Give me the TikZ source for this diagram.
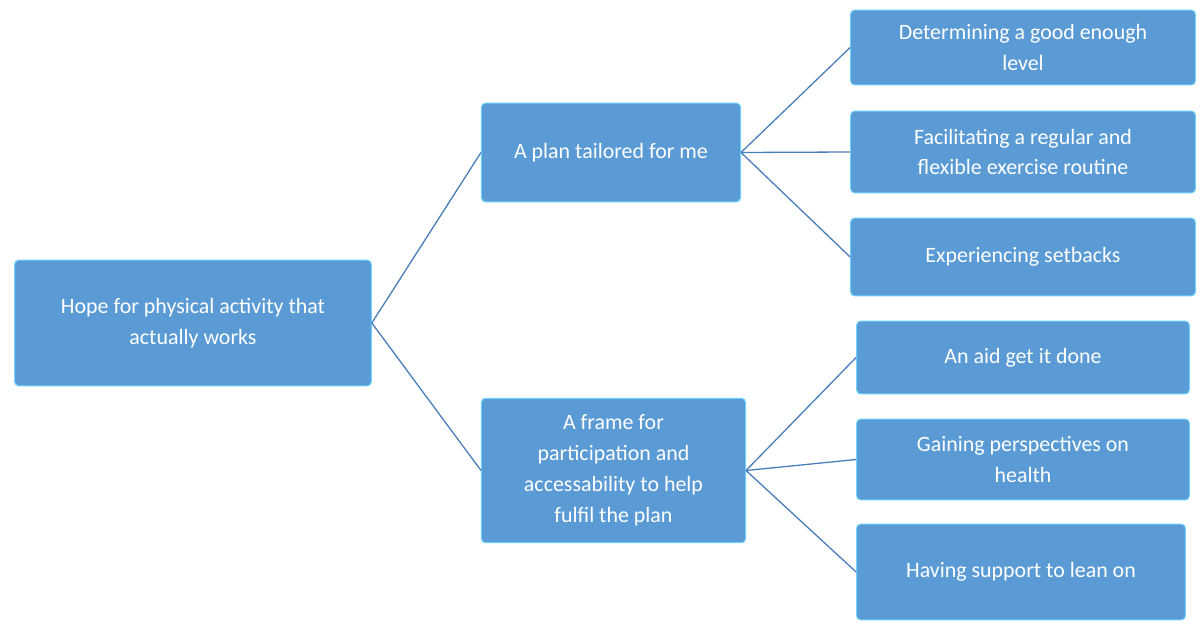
\documentclass[tikz,border=0pt]{standalone}
\usepackage{fontspec}
\setmainfont{Carlito}
\begin{document}
\begin{tikzpicture}[x=1bp,y=-1bp,
  box/.style={draw=white!70!blue!60!cyan,line width=1bp,fill={rgb,255:red,91;green,155;blue,213},rounded corners=4bp,
    text=white,align=center,font=\fontsize{22}{31}\selectfont,inner sep=0pt},
  ln/.style={draw={rgb,255:red,74;green,126;blue,187},line width=1.3bp}]
\useasboundingbox (0,0) rectangle (1200,635);
\newcommand{\bx}[6]{\node[box,minimum width=#4-#2,minimum height=#5-#3] (#1) at ({(#2+#4)/2},{(#3+#5)/2}) {#6};}
\bx{root}{14}{260}{372}{386}{Hope for physical activity that\\actually works}
\bx{m1}{481}{103}{741}{202}{A plan tailored for me}
\bx{m2}{481}{398}{746}{543}{A frame for\\participation and\\accessability to help\\fulfil the plan}
\bx{r1}{850}{10}{1196}{85}{Determining a good enough\\level}
\bx{r2}{850}{111}{1196}{193}{Facilitating a regular and\\flexible exercise routine}
\bx{r3}{850}{218}{1196}{296}{Experiencing setbacks}
\bx{r4}{856}{321}{1190}{394}{An aid get it done}
\bx{r5}{856}{419}{1190}{500}{Gaining perspectives on\\health}
\bx{r6}{856}{524}{1186}{620}{Having support to lean on}
\draw[ln] (root.east) -- (m1.west);
\draw[ln] (root.east) -- (m2.west);
\foreach \r in {r1,r2,r3} \draw[ln] (m1.east) -- (\r.west);
\foreach \r in {r4,r5,r6} \draw[ln] (m2.east) -- (\r.west);
\end{tikzpicture}
\end{document}
